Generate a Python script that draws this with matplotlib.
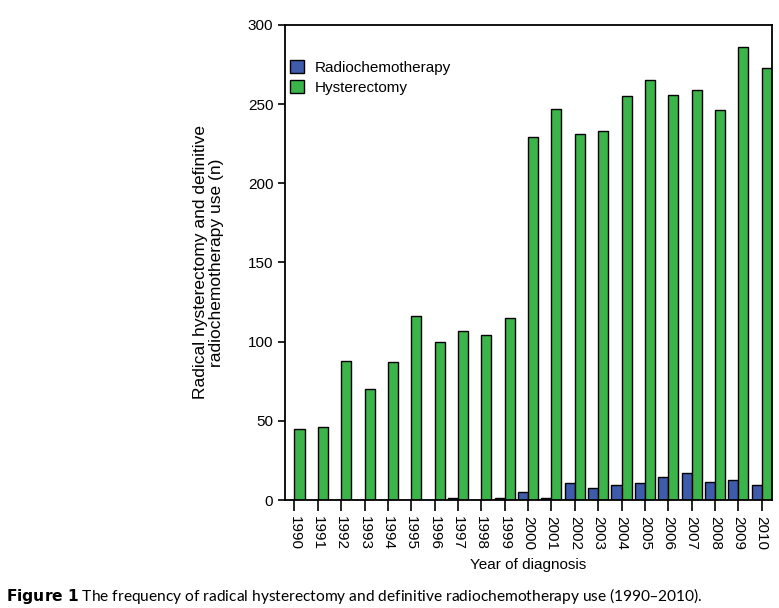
import numpy as np
import matplotlib.pyplot as plt

plt.rcParams['font.family'] = ['Liberation Sans', 'DejaVu Sans']

years = ["1990", "1991", "1992", "1993", "1994", "1995", "1996", "1997", "1998", "1999", "2000",
         "2001", "2002", "2003", "2004", "2005", "2006", "2007", "2008", "2009", "2010"]
radiochemo = [0, 0, 0, 0, 0, 0, 0, 1, 0, 1.5, 5, 1, 10.5, 7.8, 9.7, 10.5, 14.7, 16.8, 11.4, 12.4, 9.5]
hysterectomy = [45, 46, 88, 70, 87, 116, 100, 107, 104, 115, 229,
                247, 231, 233, 255, 265, 256, 259, 246, 286, 273]

x = np.arange(len(years))
w = 0.43

fig = plt.figure(figsize=(7.79, 6.08), dpi=100)
ax = fig.add_axes([0.366, 0.1776, 0.625, 0.7814])

ax.bar(x, radiochemo, width=-w, align="edge", color="#3f5bab", edgecolor="black",
       linewidth=1, label="Radiochemotherapy")
ax.bar(x, hysterectomy, width=w, align="edge", color="#3bb44a", edgecolor="black",
       linewidth=1, label="Hysterectomy")

ax.set_xlim(-0.4, len(years) - 1 + w + 0.01)
ax.set_ylim(0, 300)
ax.set_yticks([0, 50, 100, 150, 200, 250, 300])
ax.set_xticks(x)
ax.set_xticklabels(years, rotation=270, fontsize=11)
ax.tick_params(axis="y", labelsize=11, length=5, width=1.2, direction="out")
ax.tick_params(axis="x", length=8, width=1.2, direction="out")
for s in ax.spines.values():
    s.set_linewidth(1.3)

ax.set_ylabel("Radical hysterectomy and definitive\nradiochemotherapy use (n)", fontsize=12.5,
              labelpad=17, linespacing=1.1)
ax.set_xlabel("Year of diagnosis", fontsize=11, labelpad=6)

ax.legend(loc="upper left", bbox_to_anchor=(-0.018, 0.955), frameon=False, fontsize=11,
          handlelength=0.9, handleheight=0.9, handletextpad=0.7, labelspacing=0.35)

fig.text(0.008, 0.012, r"$\bf{Figure\ 1}$ The frequency of radical hysterectomy and definitive radiochemotherapy use (1990–2010).",
         fontsize=11.2, family="Lato")

fig.savefig("out.png", dpi=100)
